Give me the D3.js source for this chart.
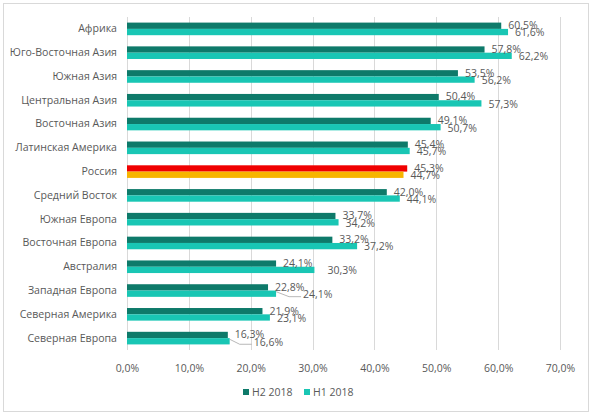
<!DOCTYPE html>
<html>
<head>
<meta charset="utf-8">
<script src="https://cdn.jsdelivr.net/npm/d3@7"></script>
<style>
  body { margin: 0; background: #fff; }
  svg text { font-family: "Open Sans", sans-serif; fill: #595959; }
</style>
</head>
<body>
<div id="chart"></div>
<script>
// data
var categories = ["Африка", "Юго-Восточная Азия", "Южная Азия", "Центральная Азия", "Восточная Азия",
	"Латинская Америка", "Россия", "Средний Восток", "Южная Европа", "Восточная Европа",
	"Австралия", "Западная Европа", "Северная Америка", "Северная Европа"];
var h2Values = [60.5, 57.8, 53.5, 50.4, 49.1, 45.4, 45.3, 42.0, 33.7, 33.2, 24.1, 22.8, 21.9, 16.3];
var h1Values = [61.6, 62.2, 56.2, 57.3, 50.7, 45.7, 44.7, 44.1, 34.2, 37.2, 30.3, 24.1, 23.1, 16.6];
var seriesNames = ["H2 2018", "H1 2018"];
var xTicks = [0, 10, 20, 30, 40, 50, 60, 70];

var width = 592, height = 416;
var margin = {top: 17, right: 32, bottom: 66, left: 127};
var colors = {h2: "#0e7a6a", h1: "#19c6b4", h2hi: "#f00000", h1hi: "#f7b500"};
// extra push for a few crowded H1 labels (Excel moved them and drew leader lines)
var labelNudge = {"Австралия": 6, "Западная Европа": 20, "Северная Европа": 17};

function fmt(v){ return v.toFixed(1).replace(".", ",") + "%"; }

var svg = d3.select("#chart").append("svg")
	.attr("width", width)
	.attr("height", height);

svg.append("rect")
	.attr("x", 3.5).attr("y", 3.5)
	.attr("width", 585).attr("height", 408)
	.attr("fill", "#fff")
	.attr("stroke", "#d9d9d9");

var x = d3.scaleLinear()
	.domain([0, 70])
	.range([margin.left, width - margin.right]);

var y = d3.scaleBand()
	.domain(categories)
	.range([margin.top, height - margin.bottom])
	.paddingInner(0.47)
	.paddingOuter(0.235);

var sub = d3.scaleBand()
	.domain(seriesNames)
	.range([0, y.bandwidth()]);

// gridlines
svg.append("g")
	.selectAll("line")
	.data(xTicks).enter()
	.append("line")
		.attr("x1", function(d){ return Math.round(x(d)) + 0.5; })
		.attr("x2", function(d){ return Math.round(x(d)) + 0.5; })
		.attr("y1", margin.top)
		.attr("y2", height - margin.bottom)
		.attr("stroke", "#d9d9d9");

var xAxis = d3.axisBottom(x).tickValues(xTicks).tickFormat(fmt).tickSize(0).tickPadding(15);
var gx = svg.append("g")
	.attr("transform", "translate(0," + (height - margin.bottom) + ")")
	.call(xAxis);
gx.select(".domain").remove();
gx.selectAll("text").style("font-size", "10.5px").attr("fill", "#595959");

var yAxis = d3.axisLeft(y).tickSize(0).tickPadding(10);
var gy = svg.append("g")
	.attr("transform", "translate(" + margin.left + ",0)")
	.call(yAxis);
gy.select(".domain").remove();
gy.selectAll("text").style("font-size", "10.6px").attr("fill", "#595959");

var rows = categories.map(function(c, i){
	return {cat: c, h2: h2Values[i], h1: h1Values[i]};
});

var groups = svg.append("g").selectAll(".row")
	.data(rows).enter()
	.append("g")
		.attr("class", "row")
		.attr("transform", function(d){ return "translate(0," + y(d.cat) + ")"; });

// H2 bars
groups.append("rect")
	.attr("x", x(0))
	.attr("y", sub("H2 2018"))
	.attr("width", function(d){ return x(d.h2) - x(0); })
	.attr("height", sub.bandwidth())
	.attr("fill", function(d){ return d.cat == "Россия" ? colors.h2hi : colors.h2; });

// H1 bars
groups.append("rect")
	.attr("x", x(0))
	.attr("y", sub("H1 2018"))
	.attr("width", function(d){ return x(d.h1) - x(0); })
	.attr("height", sub.bandwidth())
	.attr("fill", function(d){ return d.cat == "Россия" ? colors.h1hi : colors.h1; });

// leader lines for the moved labels
groups.filter(function(d){ return labelNudge[d.cat] > 10; })
	.append("polyline")
		.attr("points", function(d){
			var y0 = sub("H1 2018") + sub.bandwidth() / 2;
			var x0 = x(d.h1);
			var x1 = x(d.h1) + 5 + labelNudge[d.cat];
			return x0 + "," + (y0 - 2) + " " + (x1 - 12) + "," + (y0 + 3) + " " + x1 + "," + (y0 + 3);
		})
		.attr("fill", "none")
		.attr("stroke", "#a6a6a6")
		.attr("stroke-width", 0.8);

groups.append("text")
	.attr("x", function(d){ return x(d.h2) + 7; })
	.attr("y", sub("H2 2018") + sub.bandwidth() / 2)
	.attr("dy", "0.32em")
	.style("font-size", "10.5px")
	.text(function(d){ return fmt(d.h2); });

groups.append("text")
	.attr("x", function(d){ return x(d.h1) + 7 + (labelNudge[d.cat] || 0); })
	.attr("y", sub("H1 2018") + sub.bandwidth() / 2 + 1)
	.attr("dy", "0.32em")
	.style("font-size", "10.5px")
	.text(function(d){ return fmt(d.h1); });

// legend
var legend = svg.append("g").attr("transform", "translate(243,389)");
var legendItems = legend.selectAll("g")
	.data(seriesNames).enter()
	.append("g")
		.attr("transform", function(d, i){ return "translate(" + (i * 61) + ",0)"; });
legendItems.append("rect")
	.attr("width", 6).attr("height", 6)
	.attr("fill", function(d, i){ return i == 0 ? colors.h2 : colors.h1; });
legendItems.append("text")
	.attr("x", 9)
	.attr("y", 3)
	.attr("dy", "0.35em")
	.style("font-size", "10.5px")
	.text(function(d){ return d; });
</script>
</body>
</html>
